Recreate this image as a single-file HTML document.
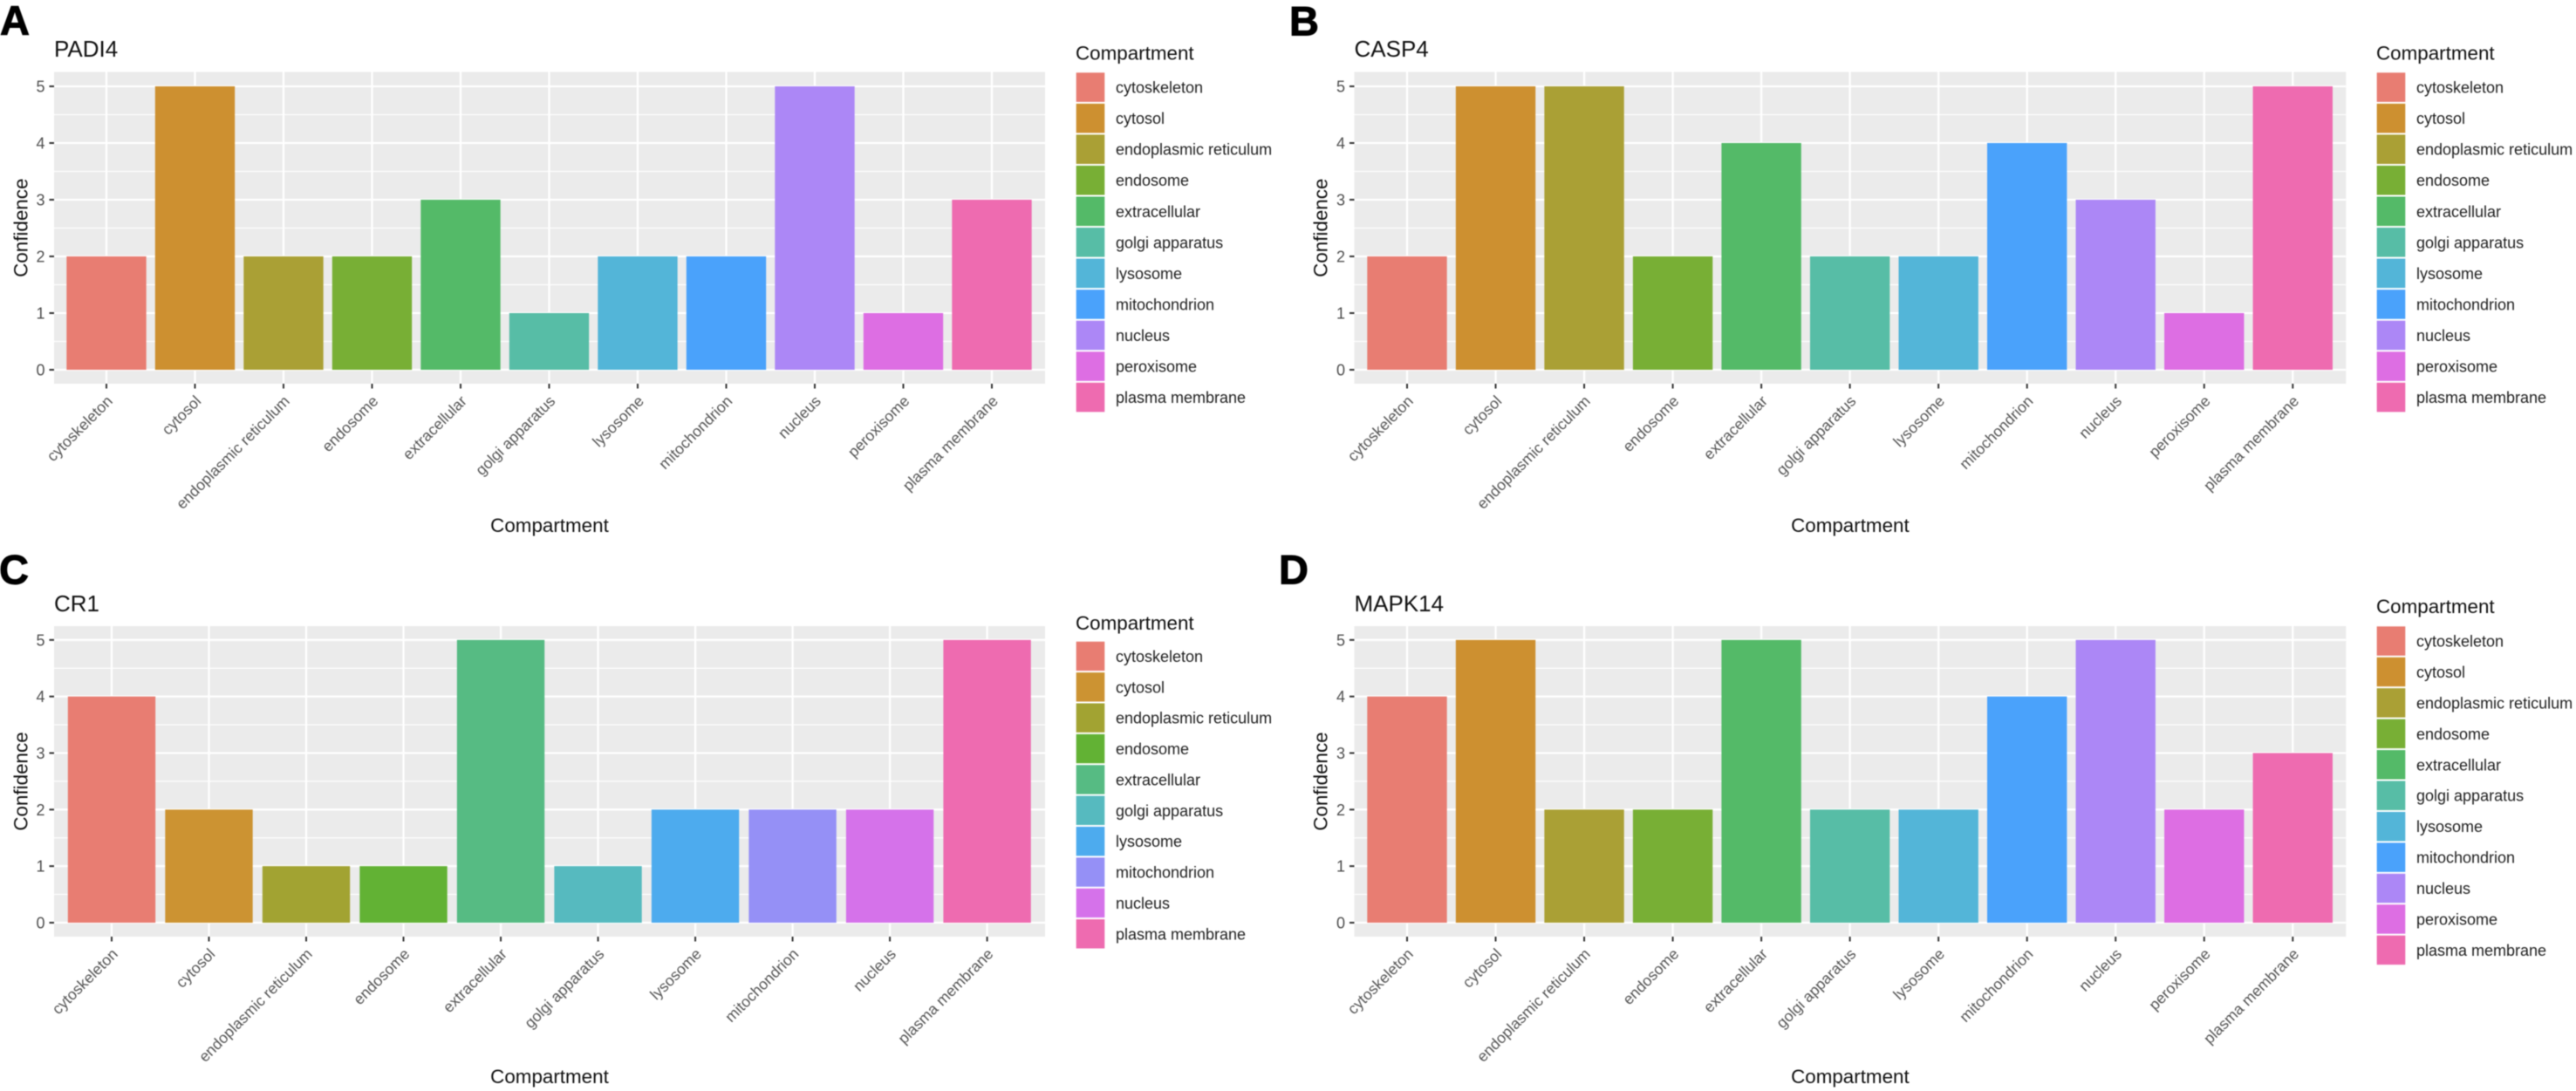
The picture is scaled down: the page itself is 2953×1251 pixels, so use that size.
<!DOCTYPE html>
<html lang="en">
<head>
<meta charset="utf-8">
<title>Protein compartment confidence charts</title>
<style>
html,body{margin:0;padding:0;background:#fff;width:2953px;height:1251px;overflow:hidden}
svg{display:block;filter:blur(0.5px)}
text{font-family:"Liberation Sans",sans-serif}
</style>
</head>
<body>
<svg id="figure" width="2953" height="1251" viewBox="0 0 2953 1251" xmlns="http://www.w3.org/2000/svg"></svg>
<script>
const categories11 = ["cytoskeleton","cytosol","endoplasmic reticulum","endosome","extracellular","golgi apparatus","lysosome","mitochondrion","nucleus","peroxisome","plasma membrane"];
const categories10 = ["cytoskeleton","cytosol","endoplasmic reticulum","endosome","extracellular","golgi apparatus","lysosome","mitochondrion","nucleus","plasma membrane"];
const colors11 = ["#E87D72","#CD9030","#AAA035","#78AF35","#54BA68","#57BDA6","#53B5D8","#4AA2FB","#AC87F6","#DD6EE3","#EE6BB0"];
const colors10 = ["#E87D72","#CC9332","#A2A332","#62B234","#56BB83","#56BABF","#4DABEE","#9590F6","#D572EA","#EE6BB0"];
const padi4Values = [2,5,2,2,3,1,2,2,5,1,3];
const casp4Values = [2,5,5,2,4,2,2,4,3,1,5];
const cr1Values = [4,2,1,1,5,1,2,2,2,5];
const mapk14Values = [4,5,2,2,5,2,2,4,5,2,3];
const yTickLabels = [0,1,2,3,4,5];
const yMinorTicks = [0.5,1.5,2.5,3.5,4.5];
const xAxisTitle = "Compartment";
const yAxisTitle = "Confidence";
const legendTitle = "Compartment";

const svg = document.getElementById("figure");
const NS = "http://www.w3.org/2000/svg";

function make(tag, attrs, parent, content) {
  const node = document.createElementNS(NS, tag);
  for (const k in attrs) node.setAttribute(k, attrs[k]);
  if (content !== undefined) node.textContent = content;
  parent.appendChild(node);
  return node;
}
function slug(s) { return String(s).toLowerCase().replace(/\s+/g, "-"); }

function drawPanel(o) {
  const group = make("g", {}, svg);
  
  

  const yPos = v => o.y0 + (o.y5 - o.y0) * (v / 5);
  const step = (o.xLast - o.xFirst) / (o.cats.length - 1);
  const xPos = i => o.xFirst + step * i;
  const barW = step * 0.9;

  const letter = make("text", {x:o.letterX, y:o.letterY, "font-size":47, "font-weight":"bold", fill:"#000", stroke:"#000", "stroke-width":1}, group, o.letter);
  
  

  const title = make("text", {x:o.left, y:o.titleY, "font-size":26, fill:"#111"}, group, o.title);
  
  

  const bg = make("rect", {x:o.left, y:o.top, width:o.right-o.left, height:o.bottom-o.top, fill:"#EBEBEB"}, group);
  
  

  yMinorTicks.forEach(v => {
    const line = make("line", {x1:o.left, x2:o.right, y1:yPos(v), y2:yPos(v), stroke:"#fff", "stroke-width":1.2}, group);
    
    
  });
  yTickLabels.forEach(v => {
    const line = make("line", {x1:o.left, x2:o.right, y1:yPos(v), y2:yPos(v), stroke:"#fff", "stroke-width":2.3}, group);
    
    
    const tick = make("line", {x1:o.left-5.5, x2:o.left, y1:yPos(v), y2:yPos(v), stroke:"#333", "stroke-width":2}, group);
    
    
    const label = make("text", {x:o.left-10.5, y:yPos(v)+6.5, "font-size":18, "text-anchor":"end", fill:"#4D4D4D"}, group, v);
    
    
  });

  o.cats.forEach((c, i) => {
    const line = make("line", {x1:xPos(i), x2:xPos(i), y1:o.top, y2:o.bottom, stroke:"#fff", "stroke-width":2.3}, group);
    
    
  });

  o.cats.forEach((c, i) => {
    const bar = make("rect", {x:xPos(i)-barW/2, y:yPos(o.values[i]), width:barW, height:o.y0-yPos(o.values[i]), fill:o.colors[i]}, group);
    
    

    const tick = make("line", {x1:xPos(i), x2:xPos(i), y1:o.bottom, y2:o.bottom+5.5, stroke:"#333", "stroke-width":2}, group);
    
    

    const ax = xPos(i) + 8, ay = o.bottom + 21;
    const label = make("text", {x:ax, y:ay, "font-size":17.6, "text-anchor":"end", fill:"#555555", transform:"rotate(-45 " + ax + " " + ay + ")"}, group, c);
    
    
  });

  const xt = make("text", {x:(o.left+o.right)/2, y:o.xTitleY, "font-size":22.4, "text-anchor":"middle", fill:"#111"}, group, xAxisTitle);
  
  

  const cy = (o.top+o.bottom)/2;
  const yt = make("text", {x:o.yTitleX, y:cy, "font-size":22.4, "text-anchor":"middle", fill:"#111", transform:"rotate(-90 " + o.yTitleX + " " + cy + ")"}, group, yAxisTitle);
  
  

  const legend = make("g", {}, group);
  
  

  const lt = make("text", {x:o.legendX, y:o.legendTitleY, "font-size":22.4, fill:"#111"}, legend, legendTitle);
  
  

  o.cats.forEach((c, i) => {
    const sy = o.legendTop + o.legendStep * i;
    const swatch = make("rect", {x:o.legendX+0.7, y:sy, width:32.6, height:o.legendStep-2, fill:o.colors[i]}, legend);
    
    
    const text = make("text", {x:o.legendX+46, y:sy+o.legendStep/2+5.5, "font-size":18, fill:"#1F1F1F"}, legend, c);
    
    
  });
}

drawPanel({letter:"A", letterX:0, letterY:40, title:"PADI4", titleY:65, cats:categories11, colors:colors11, values:padi4Values,
  left:62, right:1198, top:82.5, bottom:440, y0:424, y5:99, xFirst:122, xLast:1137,
  xTitleY:610, yTitleX:31.6, legendX:1233, legendTitleY:68.6, legendTop:83.3, legendStep:35.55});
drawPanel({letter:"B", letterX:1478, letterY:40.5, title:"CASP4", titleY:65, cats:categories11, colors:colors11, values:casp4Values,
  left:1552.5, right:2689.3, top:82.5, bottom:440, y0:424, y5:99, xFirst:1613, xLast:2628.3,
  xTitleY:610, yTitleX:1521.7, legendX:2724, legendTitleY:68.6, legendTop:83.3, legendStep:35.55});
drawPanel({letter:"C", letterX:-1, letterY:669.5, title:"CR1", titleY:701, cats:categories10, colors:colors10, values:cr1Values,
  left:62, right:1198, top:718, bottom:1074, y0:1058, y5:733.8, xFirst:128, xLast:1131.6,
  xTitleY:1242, yTitleX:31.6, legendX:1233, legendTitleY:722, legendTop:735.7, legendStep:35.38});
drawPanel({letter:"D", letterX:1466, letterY:669.5, title:"MAPK14", titleY:701, cats:categories11, colors:colors11, values:mapk14Values,
  left:1552.5, right:2689.3, top:718, bottom:1074, y0:1058, y5:733.8, xFirst:1613, xLast:2628.3,
  xTitleY:1242, yTitleX:1521.7, legendX:2724, legendTitleY:703, legendTop:718.3, legendStep:35.44});
</script>
</body>
</html>
